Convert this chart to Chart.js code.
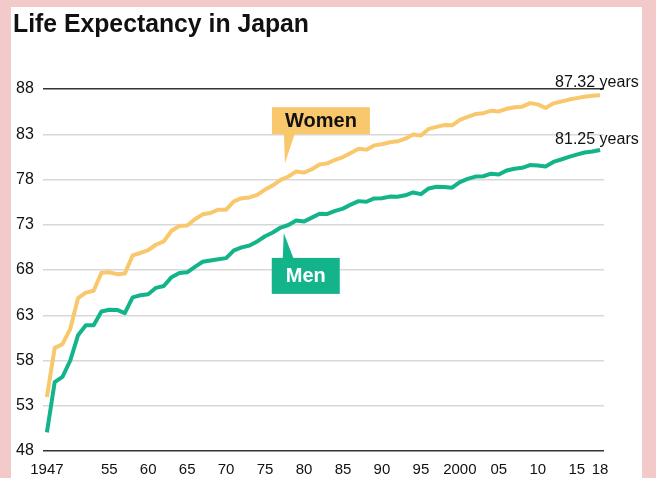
<!DOCTYPE html>
<html lang="en">
<head>
    <meta charset="UTF-8">
    <title>Life Expectancy in Japan</title>
    <script src="https://cdn.jsdelivr.net/npm/chart.js"></script>
    <style>
        body {
            margin: 0;
            width: 656px;
            height: 478px;
            overflow: hidden;
            position: relative;
            background: #f3caca;
            font-family: "Liberation Sans", Arial, sans-serif;
        }
        .panel {
            position: absolute;
            left: 11px;
            top: 7px;
            width: 631px;
            height: 471px;
            background: #fff;
        }
        .chart-box {
            position: absolute;
            left: 0;
            top: 0;
        }
    </style>
</head>
<body>
    <div class="panel"></div>
    <div class="chart-box">
        <canvas id="lifeChart" width="656" height="478"></canvas>
    </div>

    <script>
        const years = [];
        for (let y = 1947; y <= 2018; y++) years.push(y);

        const women = [53.96, 59.40, 59.80, 61.50, 64.90, 65.50, 65.70, 67.69, 67.75, 67.54,
            67.60, 69.61, 69.88, 70.19, 70.79, 71.16, 72.34, 72.87, 72.92, 73.61,
            74.15, 74.30, 74.67, 74.66, 75.58, 75.94, 76.02, 76.31, 76.89, 77.35,
            77.95, 78.33, 78.89, 78.76, 79.13, 79.66, 79.78, 80.18, 80.48, 80.93,
            81.39, 81.30, 81.77, 81.90, 82.11, 82.22, 82.51, 82.98, 82.85, 83.59,
            83.82, 84.01, 83.99, 84.60, 84.93, 85.23, 85.33, 85.59, 85.52, 85.81,
            85.99, 86.05, 86.44, 86.30, 85.90, 86.41, 86.61, 86.83, 86.99, 87.14,
            87.26, 87.32];

        const men = [50.06, 55.60, 56.20, 58.00, 60.80, 61.90, 61.90, 63.41, 63.60, 63.59,
            63.24, 64.98, 65.21, 65.32, 66.03, 66.23, 67.21, 67.67, 67.74, 68.35,
            68.91, 69.05, 69.18, 69.31, 70.17, 70.50, 70.70, 71.16, 71.73, 72.15,
            72.69, 72.97, 73.46, 73.35, 73.79, 74.22, 74.20, 74.54, 74.78, 75.23,
            75.61, 75.54, 75.91, 75.92, 76.11, 76.09, 76.25, 76.57, 76.38, 77.01,
            77.19, 77.16, 77.10, 77.72, 78.07, 78.32, 78.36, 78.64, 78.56, 79.00,
            79.19, 79.29, 79.59, 79.55, 79.44, 79.94, 80.21, 80.50, 80.75, 80.98,
            81.09, 81.25];

        const xTickYears = [1947, 1955, 1960, 1965, 1970, 1975, 1980, 1985, 1990, 1995, 2000, 2005, 2010, 2015, 2018];
        const xTickLabels = ['1947', '55', '60', '65', '70', '75', '80', '85', '90', '95', '2000', '05', '10', '15', '18'];
        const yTicks = [48, 53, 58, 63, 68, 73, 78, 83, 88];

        const womenColor = '#f9c76c';
        const menColor = '#14b48b';
        const fontFamily = '"Liberation Sans", Arial, sans-serif';

        // callouts and end labels, drawn on top of the chart
        const annotations = {
            id: 'annotations',
            afterDraw(chart) {
                const ctx = chart.ctx;
                const xs = chart.scales.x;
                const ys = chart.scales.y;
                ctx.save();

                // title
                ctx.fillStyle = '#111';
                ctx.font = 'bold 25px ' + fontFamily;
                ctx.textAlign = 'left';
                ctx.textBaseline = 'alphabetic';
                ctx.fillText('Life Expectancy in Japan', 13, 32, 296);

                // Women callout
                let tx = xs.getPixelForValue(1977.55);
                let ty = ys.getPixelForValue(79.8);
                ctx.fillStyle = womenColor;
                ctx.fillRect(tx - 13, ty - 56, 98, 27);
                ctx.beginPath();
                ctx.moveTo(tx - 1, ty - 30);
                ctx.lineTo(tx + 10, ty - 30);
                ctx.lineTo(tx, ty);
                ctx.closePath();
                ctx.fill();
                ctx.fillStyle = '#111';
                ctx.font = 'bold 20px ' + fontFamily;
                ctx.textAlign = 'center';
                ctx.textBaseline = 'middle';
                ctx.fillText('Women', tx + 36, ty - 42, 78);

                // Men callout
                tx = xs.getPixelForValue(1977.4);
                ty = ys.getPixelForValue(72.1);
                ctx.fillStyle = menColor;
                ctx.fillRect(tx - 12, ty + 25, 68, 36);
                ctx.beginPath();
                ctx.moveTo(tx - 1, ty + 26);
                ctx.lineTo(tx + 10, ty + 26);
                ctx.lineTo(tx, ty);
                ctx.closePath();
                ctx.fill();
                ctx.fillStyle = '#fff';
                ctx.font = 'bold 20px ' + fontFamily;
                ctx.fillText('Men', tx + 22, ty + 44);

                // end labels
                ctx.fillStyle = '#111';
                ctx.font = '16px ' + fontFamily;
                ctx.textAlign = 'left';
                ctx.textBaseline = 'alphabetic';
                const last = years.length - 1;
                let ex = xs.getPixelForValue(years[last]);
                ctx.fillText(women[last].toFixed(2) + ' years', ex - 45, ys.getPixelForValue(women[last]) - 8);
                ctx.fillText(men[last].toFixed(2) + ' years', ex - 45, ys.getPixelForValue(men[last]) - 6);

                ctx.restore();
            }
        };

        const lifeCtx = document.getElementById('lifeChart').getContext('2d');

        const lifeChart = new Chart(lifeCtx, {
            type: 'line',
            data: {
                datasets: [{
                    label: 'Women',
                    data: years.map((y, i) => ({ x: y, y: women[i] })),
                    borderColor: womenColor,
                    borderWidth: 4,
                    borderJoinStyle: 'round',
                    pointRadius: 0,
                    tension: 0,
                    fill: false
                }, {
                    label: 'Men',
                    data: years.map((y, i) => ({ x: y, y: men[i] })),
                    borderColor: menColor,
                    borderWidth: 4,
                    borderJoinStyle: 'round',
                    pointRadius: 0,
                    tension: 0,
                    fill: false
                }]
            },
            options: {
                responsive: false,
                animation: false,
                layout: {
                    padding: { left: 16, top: 89, right: 52, bottom: 0 }
                },
                plugins: {
                    legend: { display: false },
                    title: { display: false },
                    tooltip: { enabled: false }
                },
                scales: {
                    x: {
                        type: 'linear',
                        min: 1946.5,
                        max: 2018.5,
                        afterBuildTicks: (axis) => {
                            axis.ticks = xTickYears.map(v => ({ value: v }));
                        },
                        afterFit: (axis) => { axis.height = 27; },
                        grid: { display: false },
                        border: { display: false },
                        ticks: {
                            autoSkip: false,
                            maxRotation: 0,
                            padding: 2,
                            color: '#111',
                            font: { family: fontFamily, size: 15 },
                            callback: (v) => xTickLabels[xTickYears.indexOf(v)]
                        }
                    },
                    y: {
                        min: 48,
                        max: 88,
                        afterBuildTicks: (axis) => {
                            axis.ticks = yTicks.map(v => ({ value: v }));
                        },
                        afterFit: (axis) => { axis.width = 27; },
                        border: { display: false },
                        grid: {
                            drawTicks: false,
                            color: (c) => (c.tick.value === 48 || c.tick.value === 88) ? '#333' : '#d8d8d8',
                            lineWidth: 1.5
                        },
                        ticks: {
                            crossAlign: 'far',
                            padding: 0,
                            color: '#111',
                            font: { family: fontFamily, size: 16 }
                        }
                    }
                }
            },
            plugins: [annotations]
        });
    </script>
</body>
</html>
